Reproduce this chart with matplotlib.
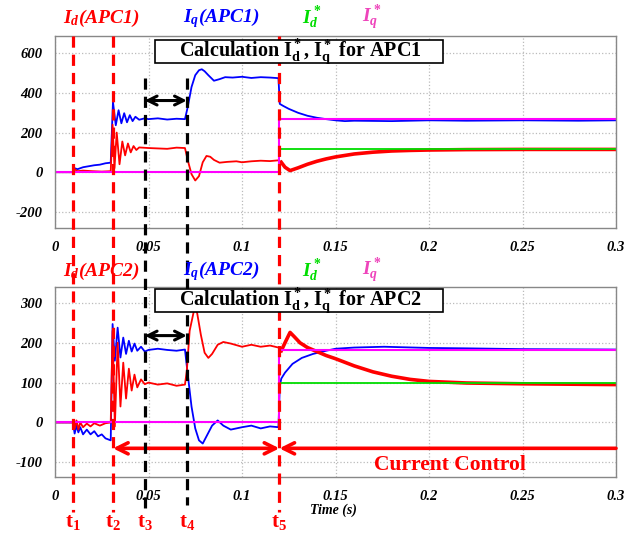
import numpy as np
import matplotlib
matplotlib.use("Agg")
import matplotlib.pyplot as plt
from matplotlib.lines import Line2D
from matplotlib.patches import Rectangle
import matplotlib.transforms as mtransforms

plt.rcParams['font.family'] = ['Liberation Serif', 'DejaVu Serif']
plt.rcParams['mathtext.fontset'] = 'custom'
plt.rcParams['mathtext.rm'] = 'Liberation Serif:bold'
plt.rcParams['mathtext.it'] = 'Liberation Serif:italic:bold'
plt.rcParams['mathtext.bf'] = 'Liberation Serif:bold'
plt.rcParams['axes.unicode_minus'] = False

# ---- datos (tiempo, valor) ----
# APC1
id_apc1 = [(0, 0), (0.0096, 0), (0.0105, 15), (0.012, 5), (0.015, 8), (0.02, 5), (0.025, 3),
           (0.0298, 5), (0.0308, 240), (0.0318, 20), (0.033, 200), (0.0345, 40), (0.036, 155),
           (0.0375, 85), (0.039, 145), (0.0405, 100), (0.042, 132), (0.0435, 112), (0.045, 125),
           (0.05, 122), (0.055, 120), (0.06, 118), (0.065, 124), (0.0695, 122), (0.071, 60),
           (0.073, -10), (0.075, -42), (0.077, -20), (0.079, 50), (0.081, 82), (0.083, 78),
           (0.085, 62), (0.088, 48), (0.092, 52), (0.097, 55), (0.1, 50), (0.105, 55), (0.11, 58),
           (0.115, 56), (0.1195, 60), (0.121, 50), (0.123, 25), (0.1257, 8), (0.13, 22), (0.135, 40),
           (0.14, 55), (0.145, 67), (0.15, 77), (0.16, 92), (0.17, 101), (0.18, 107), (0.19, 110),
           (0.2, 112), (0.22, 114), (0.25, 115), (0.3, 115)]
iq_apc1 = [(0, 0), (0.0096, 0), (0.0105, 20), (0.012, 15), (0.015, 25), (0.018, 30), (0.021, 35),
           (0.024, 38), (0.027, 45), (0.0298, 48), (0.031, 355), (0.0325, 237), (0.034, 313),
           (0.0355, 247), (0.037, 298), (0.0385, 252), (0.04, 288), (0.0415, 258), (0.043, 280),
           (0.045, 265), (0.048, 272), (0.05, 268), (0.055, 272), (0.06, 266), (0.065, 270),
           (0.0695, 268), (0.071, 330), (0.073, 430), (0.075, 490), (0.077, 515), (0.0785, 520),
           (0.08, 510), (0.082, 490), (0.085, 462), (0.088, 470), (0.091, 480), (0.095, 478),
           (0.1, 482), (0.105, 476), (0.11, 480), (0.115, 478), (0.1195, 475), (0.1202, 345),
           (0.122, 335), (0.125, 320), (0.13, 300), (0.135, 285), (0.14, 275), (0.145, 268),
           (0.15, 262), (0.155, 258), (0.16, 260), (0.18, 258), (0.2, 262), (0.22, 260),
           (0.25, 262), (0.28, 260), (0.3, 262)]
idref_apc1 = [(0, 0), (0.12, 0), (0.12, 115), (0.3, 115)]
iqref_apc1 = [(0, 0), (0.12, 0), (0.12, 270), (0.3, 270)]

# APC2
id_apc2 = [(0, 0), (0.0096, 0), (0.0105, -15), (0.0115, 5), (0.0125, -18), (0.0135, 0), (0.015, -12),
           (0.017, -3), (0.019, -10), (0.021, -2), (0.024, -8), (0.027, -2), (0.0298, 0),
           (0.0308, 230), (0.032, -10), (0.0335, 200), (0.035, 40), (0.0365, 150), (0.038, 60),
           (0.0395, 135), (0.041, 80), (0.0425, 120), (0.044, 88), (0.046, 108), (0.048, 96),
           (0.05, 100), (0.055, 95), (0.06, 98), (0.065, 92), (0.0695, 95), (0.0705, 130),
           (0.072, 230), (0.0745, 285), (0.076, 275), (0.078, 220), (0.08, 175), (0.082, 162),
           (0.084, 172), (0.087, 195), (0.09, 202), (0.094, 198), (0.1, 190), (0.105, 195),
           (0.11, 190), (0.115, 193), (0.1195, 188), (0.121, 180), (0.123, 200), (0.1257, 226),
           (0.128, 215), (0.131, 200), (0.135, 188), (0.14, 178), (0.145, 168), (0.15, 160),
           (0.16, 142), (0.17, 127), (0.18, 116), (0.19, 108), (0.2, 103), (0.22, 99), (0.25, 97),
           (0.3, 95)]
iq_apc2 = [(0, 0), (0.0096, 0), (0.0105, -28), (0.0115, -8), (0.0125, -25), (0.0135, -12), (0.015, -30),
           (0.017, -18), (0.019, -30), (0.021, -22), (0.023, -35), (0.025, -30), (0.027, -40),
           (0.0298, -45), (0.0308, 247), (0.032, 155), (0.0335, 238), (0.035, 163), (0.0365, 213),
           (0.038, 172), (0.0395, 205), (0.041, 178), (0.0425, 198), (0.044, 180), (0.046, 190),
           (0.048, 178), (0.05, 182), (0.055, 185), (0.06, 182), (0.065, 180), (0.0695, 183),
           (0.071, 120), (0.073, 40), (0.075, -15), (0.077, -45), (0.079, -53), (0.081, -35),
           (0.084, -8), (0.087, 5), (0.09, -8), (0.094, -18), (0.1, -12), (0.105, -8), (0.11, -15),
           (0.115, -10), (0.1195, -12), (0.1202, 90), (0.121, 110), (0.123, 125), (0.127, 147),
           (0.132, 162), (0.138, 172), (0.145, 180), (0.15, 185), (0.16, 188), (0.176, 190),
           (0.2, 187), (0.22, 186), (0.25, 184), (0.3, 183)]
idref_apc2 = [(0, 0), (0.12, 0), (0.12, 98), (0.3, 98)]
iqref_apc2 = [(0, 0), (0.12, 0), (0.12, 183), (0.3, 183)]

t_events = [0.0096, 0.031, 0.048, 0.0705, 0.12]
t_names = ['t_1', 't_2', 't_3', 't_4', 't_5']
x_ticks = [0, 0.05, 0.1, 0.15, 0.2, 0.25, 0.3]
x_ticklabels = ['0', '0.05', '0.1', '0.15', '0.2', '0.25', '0.3']
y_ticks_1 = [-200, 0, 200, 400, 600]
y_ticks_2 = [-100, 0, 100, 200, 300]

ROJO = '#ff0000'
AZUL = '#0000ff'
VERDE = '#00dd00'
MAGENTA = '#ff00ff'

W, H = 625, 540
fig = plt.figure(figsize=(6.25, 5.4), dpi=100)

def fy(py):
    return 1 - py / H

def fx(px):
    return px / W

ax1 = fig.add_axes([fx(55), fy(228), fx(616) - fx(55), fy(36) - fy(228)])
ax2 = fig.add_axes([fx(55), fy(477), fx(616) - fx(55), fy(287) - fy(477)])

def grafica(ax, idd, iqq, idref, iqref, yticks, ylim):
    a = np.array(iqq); ax.plot(a[:, 0], a[:, 1], color=AZUL, lw=1.3)
    a = np.array(idd)
    pre = a[a[:, 0] <= 0.121]
    post = a[a[:, 0] >= 0.121]
    ax.plot(pre[:, 0], pre[:, 1], color=ROJO, lw=1.3)
    ax.plot(post[:, 0], post[:, 1], color=ROJO, lw=2.6)
    a = np.array(idref); ax.plot(a[:, 0], a[:, 1], color=VERDE, lw=1.3)
    a = np.array(iqref); ax.plot(a[:, 0], a[:, 1], color=MAGENTA, lw=1.5)
    ax.set_xlim(0, 0.3)
    ax.set_ylim(*ylim)
    ax.set_xticks(x_ticks)
    ax.set_xticklabels(x_ticklabels)
    ax.set_yticks(yticks)
    ax.grid(True, color='#bbbbbb', ls=':', lw=0.9)
    ax.tick_params(length=0, labelsize=10.5, pad=9)
    for lab in ax.get_xticklabels() + ax.get_yticklabels():
        lab.set_fontweight('bold')
        lab.set_fontstyle('italic')
    for s in ax.spines.values():
        s.set_color('#888888')
        s.set_linewidth(1.0)

grafica(ax1, id_apc1, iq_apc1, idref_apc1, iqref_apc1, y_ticks_1, (-282, 688))
grafica(ax2, id_apc2, iq_apc2, idref_apc2, iqref_apc2, y_ticks_2, (-137, 340))

# lineas verticales de eventos
trans = mtransforms.blended_transform_factory(ax1.transData, fig.transFigure)
for i, t in enumerate(t_events):
    if i in (2, 3):
        y0, y1, c = fy(78), fy(505 if i == 3 else 512), 'black'
    else:
        y0, y1, c = fy(36), fy(512), ROJO
    fig.add_artist(Line2D([t, t], [y0, y1], transform=trans, color=c, lw=2.3,
                          ls=(0, (3.5, 2.2)), clip_on=False))
    fig.text(t, fy(523), r'$\mathrm{' + t_names[i] + '}$', transform=trans, color=ROJO,
             fontsize=15, ha='center', va='center')

# flechas negras
for ax, y in ((ax1, 362), (ax2, 218)):
    ax.annotate('', xy=(t_events[2], y), xytext=(t_events[3], y),
                arrowprops=dict(arrowstyle='<->', color='black', lw=2.2, mutation_scale=16,
                                shrinkA=0, shrinkB=0))

# flechas rojas
ax2.annotate('', xy=(t_events[1], -65), xytext=(t_events[4], -65),
             arrowprops=dict(arrowstyle='<->', color=ROJO, lw=2.6, mutation_scale=20,
                             shrinkA=0, shrinkB=0))
ax2.annotate('', xy=(t_events[4], -65), xytext=(0.3, -65),
             arrowprops=dict(arrowstyle='->', color=ROJO, lw=2.6, mutation_scale=20,
                             shrinkA=0, shrinkB=0))
fig.text(fx(450), fy(465), 'Current Control', color=ROJO, fontsize=15.5, fontweight='bold',
         ha='center', va='center')

# etiquetas superiores
for py, n in ((18, '1'), (271, '2')):
    fig.text(fx(101), fy(py), r'$I_d$(APC' + n + ')', color=ROJO, fontsize=14,
             fontstyle='italic', fontweight='bold', ha='center', va='center')
    fig.text(fx(221), fy(py), r'$I_q$(APC' + n + ')', color=AZUL, fontsize=14,
             fontstyle='italic', fontweight='bold', ha='center', va='center')
    fig.text(fx(312), fy(py), r'$I_d^*$', color=VERDE, fontsize=14, ha='center', va='center')
    fig.text(fx(372), fy(py), r'$I_q^*$', color='#ee44bb', fontsize=14, ha='center', va='center')

# cajas de calculo
for (top, bot), n in (((40, 63), '1'), ((289, 312), '2')):
    fig.add_artist(Rectangle((fx(155), fy(bot)), fx(443) - fx(155), fy(top) - fy(bot),
                             transform=fig.transFigure, facecolor='white', edgecolor='black',
                             lw=1.2, zorder=5))
    fig.text(fx(300), fy((top + bot) / 2), r'Calculation $\mathrm{I_d^*}$, $\mathrm{I_q^*}$ for APC' + n,
             fontsize=14.5, fontweight='bold', ha='center', va='center', zorder=6)

fig.text(fx(333), fy(510), 'Time (s)', fontsize=10, fontstyle='italic', fontweight='bold',
         ha='center', va='center')

fig.savefig('out.png', dpi=100)
